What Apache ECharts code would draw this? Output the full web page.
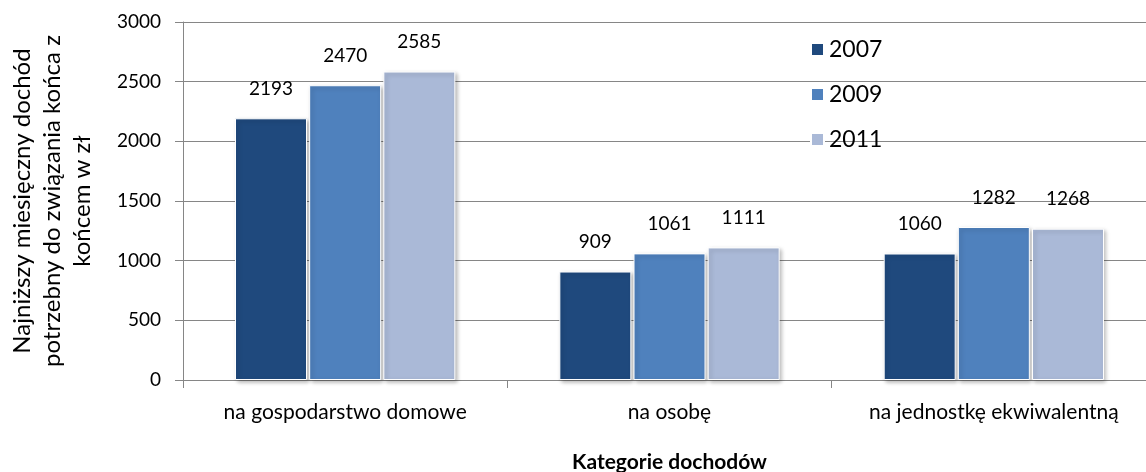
<!DOCTYPE html>
<html>
<head>
<meta charset="utf-8">
<script src="https://cdn.jsdelivr.net/npm/echarts@6/dist/echarts.min.js"></script>
<style>
html,body{margin:0;padding:0;background:#fff;overflow:hidden;}
#chart{width:1146px;height:472px;}
</style>
</head>
<body>
<div id="chart"></div>
<script>
var categories = ['na gospodarstwo domowe', 'na osobę', 'na jednostkę ekwiwalentną'];
var seriesNames = ['2007', '2009', '2011'];
var values2007 = [2193, 909, 1060];
var values2009 = [2470, 1061, 1282];
var values2011 = [2585, 1111, 1268];
var yTicks = [0, 500, 1000, 1500, 2000, 2500, 3000];

var colors = ['#1F497D', '#4F81BD', '#AAB9D7'];
var FONT = 'Lato, "Open Sans", sans-serif';
var seriesValues = [values2007, values2009, values2011];

var chart = echarts.init(document.getElementById('chart'));
var option = {
  animation: false,
  textStyle: { fontFamily: FONT },
  grid: { left: 183, right: -10, top: 22, bottom: 92, containLabel: false, outerBoundsMode: 'none' },
  legend: {
    orient: 'vertical',
    left: 805,
    top: 32,
    itemWidth: 13,
    itemHeight: 13,
    itemGap: 20,
    icon: 'rect',
    textStyle: { fontFamily: FONT, fontSize: 23, color: '#000', lineHeight: 25 },
    data: seriesNames
  },
  xAxis: {
    type: 'category',
    data: categories,
    axisLine: { lineStyle: { color: '#868686', width: 1 } },
    axisTick: { show: true, length: 8, lineStyle: { color: '#868686' } },
    axisLabel: { color: '#000', fontSize: 21, margin: 22, interval: 0, fontFamily: FONT },
    name: 'Kategorie dochodów',
    nameLocation: 'middle',
    nameGap: 72,
    nameTextStyle: { color: '#000', fontSize: 21, fontWeight: 'bold', fontFamily: FONT }
  },
  yAxis: {
    type: 'value',
    min: yTicks[0],
    max: yTicks[yTicks.length - 1],
    interval: 500,
    axisLine: { show: true, lineStyle: { color: '#868686', width: 1 } },
    axisTick: { show: true, length: 8, lineStyle: { color: '#868686' } },
    axisLabel: { color: '#000', fontSize: 19, margin: 22, fontFamily: FONT, formatter: function (v) { return String(v); } },
    splitLine: { show: true, lineStyle: { color: '#868686', width: 1 } },
    name: 'Najniższy miesięczny dochód\npotrzebny do związania końca z\nkońcem w zł',
    nameLocation: 'middle',
    nameRotate: 90,
    nameGap: 86,
    nameTextStyle: { color: '#000', fontSize: 24, lineHeight: 30, align: 'center', fontFamily: FONT }
  },
  series: seriesNames.map(function (n, i) {
    return {
      name: n,
      type: 'bar',
      data: seriesValues[i],
      barWidth: 72,
      barGap: '3%',
      itemStyle: {
        color: colors[i],
        borderColor: '#ffffff',
        borderWidth: 1,
        shadowColor: 'rgba(0,0,0,0.28)',
        shadowBlur: 4,
        shadowOffsetX: 2,
        shadowOffsetY: 2
      },
      label: {
        show: true,
        position: 'top',
        distance: 20,
        color: '#000',
        fontSize: 19,
        fontFamily: FONT
      }
    };
  })
};
chart.setOption(option);
</script>
</body>
</html>
